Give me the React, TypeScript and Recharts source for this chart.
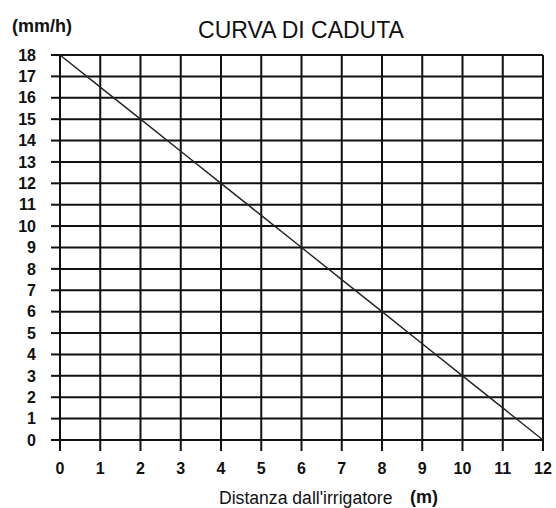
import { LineChart, Line, XAxis, YAxis, CartesianGrid } from 'recharts'

const distances = [0, 1, 2, 3, 4, 5, 6, 7, 8, 9, 10, 11, 12]
const rates = [18, 16.5, 15, 13.5, 12, 10.5, 9, 7.5, 6, 4.5, 3, 1.5, 0]
const xTicks = [0, 1, 2, 3, 4, 5, 6, 7, 8, 9, 10, 11, 12]
const yTicks = [0, 1, 2, 3, 4, 5, 6, 7, 8, 9, 10, 11, 12, 13, 14, 15, 16, 17, 18]

const data = distances.map((d, i) => ({ d, v: rates[i] }))

const font = '"Liberation Sans", Arial, sans-serif'
const ink = '#111111'
const tickStyle = { fill: ink, fontSize: 16, fontWeight: 700, fontFamily: font }

function Caption({ text, left, top, size, bold, center }: { text: string; left: number; top: number; size: number; bold?: boolean; center?: boolean }) {
  return (
    <div
      style={{
        position: 'absolute', left, top, fontSize: size, lineHeight: 1, fontFamily: font,
        fontWeight: bold ? 700 : 400, color: ink, whiteSpace: 'nowrap',
        transform: center ? 'translateX(-50%)' : undefined,
      }}
    >
      {text}
    </div>
  )
}

export default function App() {
  return (
    <div style={{ position: 'absolute', left: 0, top: 0, width: 556, height: 508, background: '#fff' }}>
      <LineChart width={556} height={508} data={data} margin={{ top: 55, right: 13, left: 0, bottom: 0 }}>
        <CartesianGrid stroke={ink} strokeWidth={2} />
        <XAxis
          dataKey="d"
          type="number"
          domain={[0, 12]}
          ticks={xTicks}
          interval={0}
          height={68}
          axisLine={false}
          tickLine={{ stroke: ink, strokeWidth: 2 }}
          tickSize={11}
          tickMargin={12}
          tick={tickStyle}
        />
        <YAxis
          type="number"
          domain={[0, 18]}
          ticks={yTicks}
          interval={0}
          width={60}
          axisLine={false}
          tickLine={{ stroke: ink, strokeWidth: 2 }}
          tickSize={9}
          tickMargin={15}
          tick={tickStyle}
        />
        <Line type="linear" dataKey="v" stroke="#222" strokeWidth={1.4} dot={false} isAnimationActive={false} />
      </LineChart>
      <Caption text="CURVA DI CADUTA" left={301} top={19} size={23} center />
      <Caption text="(mm/h)" left={12} top={17} size={18} bold />
      <Caption text="Distanza dall'irrigatore" left={219} top={490} size={17.6} />
      <Caption text="(m)" left={410} top={488} size={18} bold />
    </div>
  )
}
